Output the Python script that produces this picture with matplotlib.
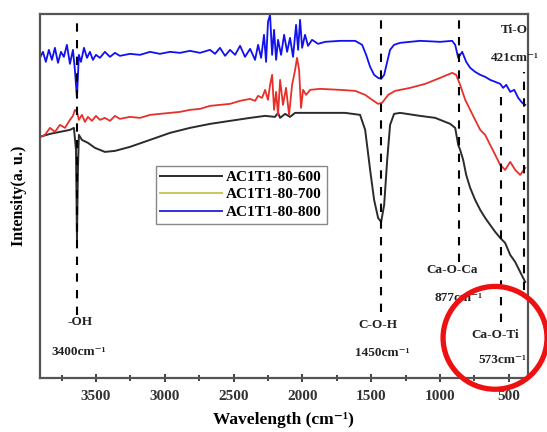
import numpy as np
import matplotlib.pyplot as plt
from matplotlib.lines import Line2D
from matplotlib.patches import Ellipse

plt.rcParams['font.family'] = ['Liberation Serif', 'DejaVu Serif']
plt.rcParams['font.weight'] = 'bold'

# AC1T1-80-800 (blue)
wn_800 = [3907, 3885, 3864, 3842, 3820, 3798, 3776, 3754, 3733, 3711, 3689, 3667, 3653, 3638, 3624,
          3609, 3587, 3565, 3544, 3522, 3500, 3471, 3435, 3398, 3362, 3326, 3253, 3180, 3107, 3035,
          2962, 2889, 2817, 2744, 2671, 2635, 2599, 2562, 2526, 2489, 2453, 2417, 2380, 2344, 2322,
          2300, 2279, 2264, 2250, 2235, 2220, 2206, 2191, 2177, 2155, 2133, 2111, 2090, 2068, 2046,
          2031, 2017, 2002, 1981, 1959, 1930, 1886, 1835, 1726, 1617, 1566, 1537, 1508, 1479, 1450,
          1428, 1406, 1384, 1363, 1334, 1290, 1145, 999, 912, 890, 868, 839, 810, 781, 745,
          708, 672, 636, 599, 563, 541, 519, 490, 461, 432, 403, 381]
int_800 = [320, 326, 316, 328, 318, 330, 315, 326, 321, 333, 314, 328, 308, 280, 323,
           316, 330, 320, 326, 318, 323, 320, 326, 321, 325, 322, 324, 323, 326, 324,
           326, 325, 327, 325, 328, 324, 330, 322, 328, 323, 332, 321, 329, 318, 333,
           320, 343, 316, 356, 363, 323, 348, 318, 338, 323, 343, 326, 340, 321, 353,
           328, 358, 330, 343, 332, 338, 334, 336, 337, 337, 333, 323, 311, 303, 300,
           299, 303, 316, 328, 333, 335, 337, 336, 337, 333, 320, 326, 316, 310, 306,
           303, 301, 298, 296, 294, 290, 293, 286, 288, 280, 275, 273]

# AC1T1-80-700 (red)
wn_700 = [3907, 3871, 3834, 3798, 3762, 3725, 3689, 3667, 3653, 3638, 3624, 3602, 3580, 3558, 3529,
          3500, 3471, 3435, 3398, 3362, 3326, 3253, 3180, 3107, 3035, 2962, 2889, 2817, 2744, 2671,
          2599, 2526, 2453, 2380, 2344, 2322, 2293, 2271, 2250, 2235, 2220, 2206, 2191, 2177, 2162,
          2141, 2119, 2097, 2075, 2053, 2039, 2024, 2010, 1995, 1973, 1944, 1872, 1726, 1617, 1544,
          1493, 1450, 1421, 1377, 1326, 1217, 1108, 999, 912, 883, 854, 817, 781, 745, 708,
          672, 636, 599, 563, 527, 490, 454, 418, 381]
int_700 = [241, 243, 250, 246, 253, 250, 258, 262, 268, 266, 258, 263, 256, 261, 257,
           262, 258, 260, 257, 262, 259, 261, 260, 263, 264, 265, 266, 268, 269, 272,
           273, 274, 277, 279, 277, 282, 280, 288, 278, 293, 303, 268, 286, 263, 298,
           273, 290, 263, 293, 308, 320, 308, 270, 288, 283, 288, 289, 288, 287, 283,
           278, 274, 275, 283, 287, 290, 294, 300, 305, 303, 293, 278, 268, 258, 248,
           243, 233, 223, 213, 208, 216, 208, 203, 210]

# AC1T1-80-600 (black)
wn_600 = [3907, 3834, 3762, 3689, 3660, 3645, 3638, 3631, 3624, 3602, 3558, 3507, 3435, 3362, 3253,
          3107, 2962, 2817, 2671, 2526, 2380, 2271, 2199, 2177, 2162, 2126, 2090, 2053, 2017, 1872,
          1690, 1581, 1544, 1508, 1479, 1450, 1428, 1406, 1384, 1363, 1334, 1290, 1145, 1035, 926,
          890, 868, 854, 832, 810, 781, 745, 708, 672, 636, 599, 563, 527, 490, 454,
          418, 381]
int_600 = [241, 244, 246, 248, 250, 228, 138, 208, 243, 238, 235, 230, 226, 227, 231,
           238, 245, 250, 254, 257, 260, 262, 261, 265, 260, 264, 261, 265, 265, 265,
           265, 263, 248, 208, 178, 160, 156, 173, 218, 253, 264, 265, 262, 260, 254,
           250, 233, 228, 218, 203, 190, 178, 168, 160, 153, 146, 140, 135, 123, 116,
           106, 96]

# marker lines: position, ymin, ymax
peak_wn = [3638, 1428, 861, 556, 389]
peak_lo = [63, 66, 116, 56, 88]
peak_hi = [358, 363, 363, 288, 306]

labels = ['AC1T1-80-600', 'AC1T1-80-700', 'AC1T1-80-800']

fig = plt.figure(figsize=(5.47, 4.32), dpi=100)
ax = fig.add_axes([0.073, 0.125, 0.892, 0.843])

ax.plot(wn_600, int_600, color='#2b2b2b', lw=1.4)
ax.plot(wn_700, int_700, color='#e8302a', lw=1.3)
ax.plot(wn_800, int_800, color='#1010f0', lw=1.3)

ax.vlines(peak_wn, peak_lo, peak_hi, colors='black', linestyles=(0, (4, 4)), lw=1.5)

kw = dict(ha='center', va='center', fontsize=9.5, fontweight='bold', color='#222222')
ax.text(3616, 56, '-OH', **kw)
ax.text(3625, 26, '3400cm⁻¹', **kw)
ax.text(1450, 53, 'C-O-H', **kw)
ax.text(1420, 25, '1450cm⁻¹', **kw)
ax.text(912, 108, 'Ca-O-Ca', **kw)
ax.text(868, 80, '877cm⁻¹', **kw)
ax.text(599, 43, 'Ca-O-Ti', **kw)
ax.text(548, 18, '573cm⁻¹', **kw)
ax.text(461, 348, 'Ti-O', **kw)
ax.text(454, 320, '421cm⁻¹', **kw)

ax.set_xlim(3907, 362)
ax.set_ylim(0, 364)
ax.set_xticks([3500, 3000, 2500, 2000, 1500, 1000, 500])
ax.set_xticks(np.arange(3750, 300, -500), minor=True)
ax.set_yticks([])
ax.tick_params(axis='x', which='both', direction='inout', length=6, width=1.3,
               labelsize=11, colors='#333333', pad=6)
ax.tick_params(axis='x', which='minor', length=4)
for s in ax.spines.values():
    s.set_color('#555555')
    s.set_linewidth(1.6)

ax.set_xlabel('Wavelength (cm⁻¹)', fontsize=12.5, fontweight='bold', labelpad=6)
ax.set_ylabel('Intensity(a. u.)', fontsize=11.5, fontweight='bold', labelpad=9)

handles = [Line2D([], [], color='#2b2b2b', lw=1.4),
           Line2D([], [], color='#c8c85a', lw=1.4),
           Line2D([], [], color='#3030e0', lw=1.4)]
ax.legend(handles, labels, loc='upper left', bbox_to_anchor=(0.222, 0.604),
          fontsize=11, fancybox=False, edgecolor='#888888', handlelength=4.0,
          handletextpad=0.3, borderpad=0.3, labelspacing=0.25, framealpha=1)

circ = Ellipse((0.905, 0.218), 0.19, 0.238, transform=fig.transFigure,
               fill=False, edgecolor='#ee1111', lw=3.8)
fig.add_artist(circ)

fig.savefig('out.png', dpi=100)
